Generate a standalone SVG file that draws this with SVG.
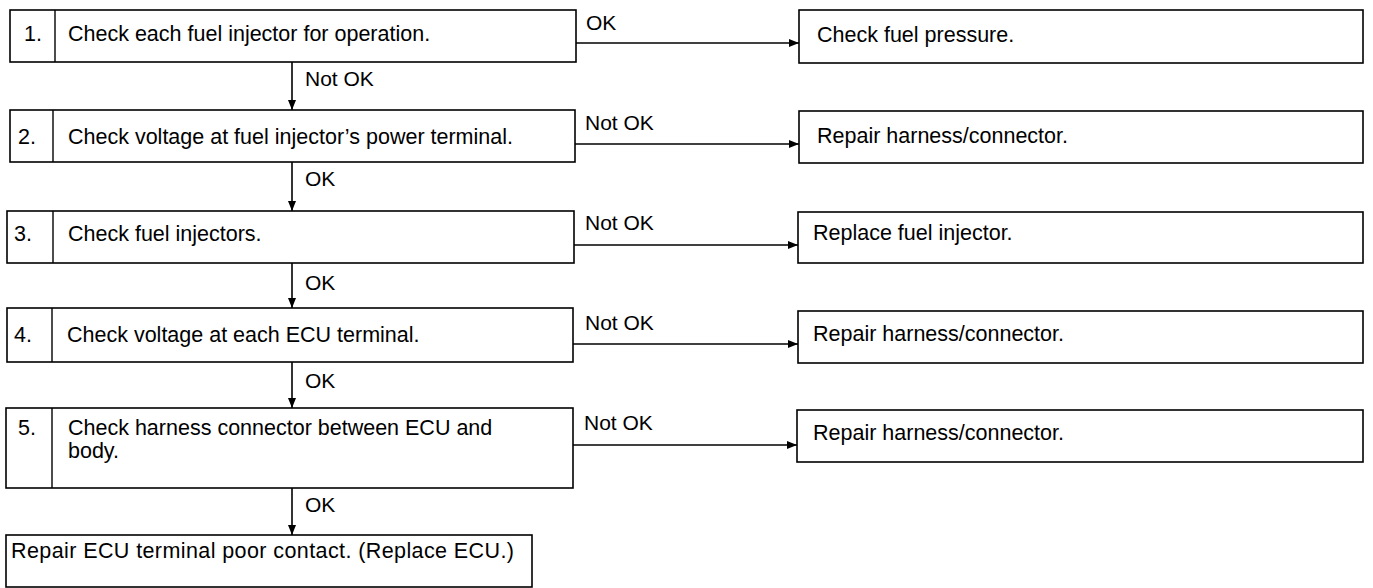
<svg xmlns="http://www.w3.org/2000/svg" width="1373" height="588" viewBox="0 0 1373 588">
<style>
.box{fill:#fff;stroke:#000;stroke-width:1.6}
.div{stroke:#000;stroke-width:1.4}
.t{font-family:"Liberation Sans",Arial,sans-serif;font-size:21.5px;fill:#000}
.lbl{font-family:"Liberation Sans",Arial,sans-serif;font-size:21px;fill:#000}
.c{stroke:#000;stroke-width:1.6;fill:none;marker-end:url(#ah)}
</style>
<defs>
<marker id="ah" viewBox="0 0 10 10" refX="10" refY="5" markerWidth="10" markerHeight="10" markerUnits="userSpaceOnUse" orient="auto">
<path d="M0,1 L10,5 L0,9 Z" fill="#000"/>
</marker>
</defs>
<g id="connectors">
<path class="c" d="M576,43 H799"/>
<path class="c" d="M575,144 H799"/>
<path class="c" d="M574,245 H798"/>
<path class="c" d="M573,344 H798"/>
<path class="c" d="M573,445 H797"/>
<path class="c" d="M292,62 V110"/>
<path class="c" d="M292,162 V211"/>
<path class="c" d="M292,263 V308"/>
<path class="c" d="M292,362 V408"/>
<path class="c" d="M292,488 V535"/>
<text class="lbl" x="586" y="30">OK</text>
<text class="lbl" x="585" y="130">Not OK</text>
<text class="lbl" x="585" y="230">Not OK</text>
<text class="lbl" x="585" y="330">Not OK</text>
<text class="lbl" x="584" y="430">Not OK</text>
<text class="lbl" x="305" y="86">Not OK</text>
<text class="lbl" x="305" y="186">OK</text>
<text class="lbl" x="305" y="290">OK</text>
<text class="lbl" x="305" y="388">OK</text>
<text class="lbl" x="305" y="512">OK</text>
</g>
<g id="step1">
<rect class="box" x="10" y="10" width="566" height="52"/>
<line class="div" x1="55" y1="10" x2="55" y2="62"/>
<text class="t" x="24" y="41">1.</text>
<text class="t" x="68" y="41">Check each fuel injector for operation.</text>
</g>
<g id="step2">
<rect class="box" x="10" y="110" width="565" height="52"/>
<line class="div" x1="53" y1="110" x2="53" y2="162"/>
<text class="t" x="18" y="144">2.</text>
<text class="t" x="68" y="144">Check voltage at fuel injector’s power terminal.</text>
</g>
<g id="step3">
<rect class="box" x="7" y="211" width="567" height="52"/>
<line class="div" x1="53" y1="211" x2="53" y2="263"/>
<text class="t" x="14" y="241">3.</text>
<text class="t" x="68" y="241">Check fuel injectors.</text>
</g>
<g id="step4">
<rect class="box" x="7" y="308" width="566" height="54"/>
<line class="div" x1="52" y1="308" x2="52" y2="362"/>
<text class="t" x="14" y="342">4.</text>
<text class="t" x="67" y="342">Check voltage at each ECU terminal.</text>
</g>
<g id="step5">
<rect class="box" x="6" y="408" width="567" height="80"/>
<line class="div" x1="52" y1="408" x2="52" y2="488"/>
<text class="t" x="18" y="435">5.</text>
<text class="t" x="68" y="435">Check harness connector between ECU and</text>
<text class="t" x="68" y="458">body.</text>
</g>
<g id="final">
<rect class="box" x="6" y="535" width="526" height="52"/>
<text class="t" x="11" y="558" textLength="503" lengthAdjust="spacing">Repair ECU terminal poor contact. (Replace ECU.)</text>
</g>
<g id="r1">
<rect class="box" x="799" y="10" width="564" height="53"/>
<text class="t" x="817" y="42">Check fuel pressure.</text>
</g>
<g id="r2">
<rect class="box" x="799" y="111" width="564" height="52"/>
<text class="t" x="817" y="143">Repair harness/connector.</text>
</g>
<g id="r3">
<rect class="box" x="798" y="212" width="565" height="51"/>
<text class="t" x="813" y="240">Replace fuel injector.</text>
</g>
<g id="r4">
<rect class="box" x="798" y="311" width="565" height="52"/>
<text class="t" x="813" y="341">Repair harness/connector.</text>
</g>
<g id="r5">
<rect class="box" x="797" y="410" width="566" height="52"/>
<text class="t" x="813" y="440">Repair harness/connector.</text>
</g>
</svg>
